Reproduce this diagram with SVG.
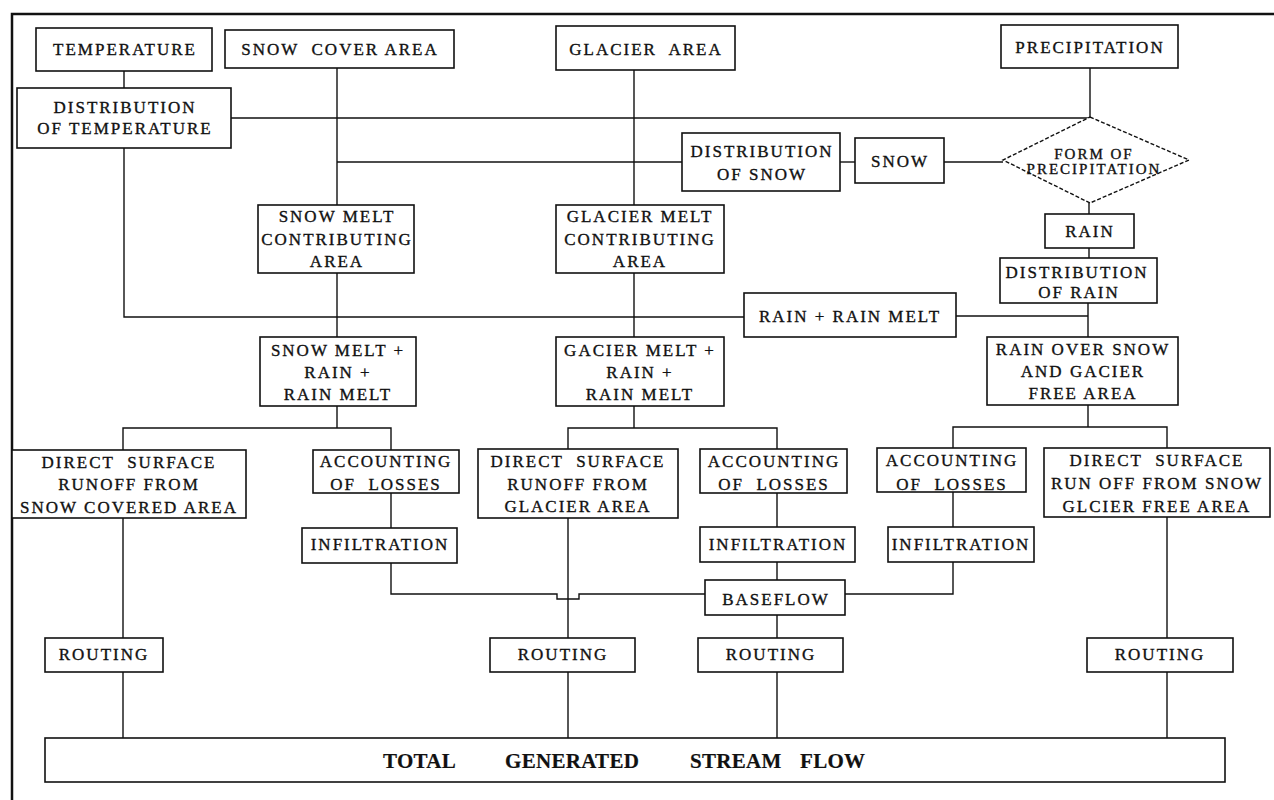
<svg xmlns="http://www.w3.org/2000/svg" width="1274" height="800" viewBox="0 0 1274 800">
<style>
.bg{fill:#fff}
.box{fill:#fff;stroke:#111;stroke-width:1.6}
.dia{fill:#fff;stroke:#111;stroke-width:1.4;stroke-dasharray:4 2}
.ln{fill:none;stroke:#111;stroke-width:1.4}
.frame{fill:none;stroke:#111;stroke-width:2.5}
text{font-family:"Liberation Serif","Times New Roman",serif;font-size:17px;letter-spacing:2px;fill:#111;stroke:#111;stroke-width:0.35;text-anchor:middle;white-space:pre}
.sm{font-size:15px;letter-spacing:2px}
.tot{font-size:21px;font-weight:bold;letter-spacing:0.3px;text-anchor:start;stroke-width:0.2}
</style>
<rect class="bg" x="0" y="0" width="1274" height="800"/>
<path class="frame" d="M12,800 V14 H1274"/>
<g id="connectors">
<path class="ln" d="M124,71 V88"/>
<path class="ln" d="M231,118 H1090 M1090,68 V118"/>
<path class="ln" d="M337,68 V205"/>
<path class="ln" d="M337,162 H682"/>
<path class="ln" d="M634,70 V205"/>
<path class="ln" d="M840,162 H855"/>
<path class="ln" d="M944,162 H1003"/>
<path class="ln" d="M1089,203 V214"/>
<path class="ln" d="M1089,248 V258"/>
<path class="ln" d="M1088,303 V337"/>
<path class="ln" d="M956,316 H1088"/>
<path class="ln" d="M124,148 V317 H744"/>
<path class="ln" d="M337,273 V337"/>
<path class="ln" d="M634,273 V337"/>
<path class="ln" d="M337,406 V428 M123,450 V428 H391 V450"/>
<path class="ln" d="M391,493 V528"/>
<path class="ln" d="M391,563 V594 H557 V599 H579 V594 H705"/>
<path class="ln" d="M123,518 V638 M123,672 V738"/>
<path class="ln" d="M634,406 V428 M568,449 V428 H777 V449"/>
<path class="ln" d="M777,493 V527 M777,562 V580 M777,615 V638 M777,672 V738"/>
<path class="ln" d="M568,518 V638 M568,672 V738"/>
<path class="ln" d="M1088,405 V427 M953,448 V427 H1167 V448"/>
<path class="ln" d="M953,492 V527 M953,562 V594 H845"/>
<path class="ln" d="M1167,517 V638 M1167,672 V738"/>
</g>
<g id="temperature"><rect class="box" x="36" y="28" width="176" height="43"/><text x="125" y="55">TEMPERATURE</text></g>
<g id="snow-cover-area"><rect class="box" x="225" y="30" width="229" height="38"/><text x="340" y="55">SNOW  COVER AREA</text></g>
<g id="glacier-area"><rect class="box" x="556" y="26" width="179" height="44"/><text x="646" y="55">GLACIER  AREA</text></g>
<g id="precipitation"><rect class="box" x="1001" y="25" width="177" height="43"/><text x="1090" y="53">PRECIPITATION</text></g>
<g id="distribution-of-temperature"><rect class="box" x="17" y="88" width="214" height="60"/><text x="125" y="113">DISTRIBUTION</text><text x="125" y="134">OF TEMPERATURE</text></g>
<g id="distribution-of-snow"><rect class="box" x="682" y="133" width="158" height="58"/><text x="762" y="157">DISTRIBUTION</text><text x="762" y="180">OF SNOW</text></g>
<g id="snow"><rect class="box" x="855" y="138" width="89" height="45"/><text x="900" y="167">SNOW</text></g>
<g id="form-of-precipitation"><polygon class="dia" points="1090,117 1189,160 1090,203 1003,160"/><text class="sm" x="1094" y="159">FORM OF</text><text class="sm" x="1094" y="174">PRECIPITATION</text></g>
<g id="rain"><rect class="box" x="1045" y="214" width="89" height="34"/><text x="1090" y="237">RAIN</text></g>
<g id="distribution-of-rain"><rect class="box" x="1000" y="258" width="157" height="45"/><text x="1077" y="278">DISTRIBUTION</text><text x="1079" y="298">OF RAIN</text></g>
<g id="rain-plus-rain-melt"><rect class="box" x="744" y="293" width="212" height="44"/><text x="850" y="322">RAIN + RAIN MELT</text></g>
<g id="rain-over-snow"><rect class="box" x="987" y="337" width="191" height="68"/><text x="1083" y="355">RAIN OVER SNOW</text><text x="1083" y="377">AND GACIER</text><text x="1083" y="399">FREE AREA</text></g>
<g id="snow-melt-contributing-area"><rect class="box" x="258" y="205" width="156" height="68"/><text x="337" y="222">SNOW MELT</text><text x="337" y="245">CONTRIBUTING</text><text x="337" y="267">AREA</text></g>
<g id="glacier-melt-contributing-area"><rect class="box" x="556" y="205" width="168" height="68"/><text x="640" y="222">GLACIER MELT</text><text x="640" y="245">CONTRIBUTING</text><text x="640" y="267">AREA</text></g>
<g id="snow-melt-rain"><rect class="box" x="260" y="337" width="156" height="69"/><text x="338" y="356">SNOW MELT +</text><text x="338" y="378">RAIN +</text><text x="338" y="400">RAIN MELT</text></g>
<g id="glacier-melt-rain"><rect class="box" x="556" y="337" width="168" height="69"/><text x="640" y="356">GACIER MELT +</text><text x="640" y="378">RAIN +</text><text x="640" y="400">RAIN MELT</text></g>
<g id="direct-surface-runoff-snow"><rect class="box" x="12" y="450" width="234" height="68"/><text x="129" y="468">DIRECT  SURFACE</text><text x="129" y="490">RUNOFF FROM</text><text x="129" y="513">SNOW COVERED AREA</text></g>
<g id="accounting-of-losses-1"><rect class="box" x="313" y="450" width="146" height="43"/><text x="386" y="467">ACCOUNTING</text><text x="386" y="490">OF  LOSSES</text></g>
<g id="infiltration-1"><rect class="box" x="302" y="528" width="155" height="35"/><text x="380" y="550">INFILTRATION</text></g>
<g id="direct-surface-runoff-glacier"><rect class="box" x="478" y="449" width="200" height="69"/><text x="578" y="467">DIRECT  SURFACE</text><text x="578" y="490">RUNOFF FROM</text><text x="578" y="512">GLACIER AREA</text></g>
<g id="accounting-of-losses-2"><rect class="box" x="700" y="449" width="147" height="44"/><text x="774" y="467">ACCOUNTING</text><text x="774" y="490">OF  LOSSES</text></g>
<g id="infiltration-2"><rect class="box" x="700" y="527" width="155" height="35"/><text x="778" y="550">INFILTRATION</text></g>
<g id="baseflow"><rect class="box" x="705" y="580" width="140" height="35"/><text x="776" y="605">BASEFLOW</text></g>
<g id="accounting-of-losses-3"><rect class="box" x="877" y="448" width="149" height="44"/><text x="952" y="466">ACCOUNTING</text><text x="952" y="490">OF  LOSSES</text></g>
<g id="infiltration-3"><rect class="box" x="888" y="527" width="146" height="35"/><text x="961" y="550">INFILTRATION</text></g>
<g id="direct-surface-runoff-free"><rect class="box" x="1044" y="448" width="226" height="69"/><text x="1157" y="466">DIRECT  SURFACE</text><text x="1157" y="489">RUN OFF FROM SNOW</text><text x="1157" y="512">GLCIER FREE AREA</text></g>
<g id="routing-1"><rect class="box" x="45" y="638" width="118" height="34"/><text x="104" y="660">ROUTING</text></g>
<g id="routing-2"><rect class="box" x="490" y="638" width="145" height="34"/><text x="563" y="660">ROUTING</text></g>
<g id="routing-3"><rect class="box" x="698" y="638" width="145" height="34"/><text x="771" y="660">ROUTING</text></g>
<g id="routing-4"><rect class="box" x="1087" y="638" width="146" height="34"/><text x="1160" y="660">ROUTING</text></g>
<g id="total-generated-stream-flow"><rect class="box" x="45" y="738" width="1180" height="44"/><text class="tot" y="768"><tspan x="383">TOTAL</tspan><tspan x="505">GENERATED</tspan><tspan x="690">STREAM</tspan><tspan x="800">FLOW</tspan></text></g>
</svg>
